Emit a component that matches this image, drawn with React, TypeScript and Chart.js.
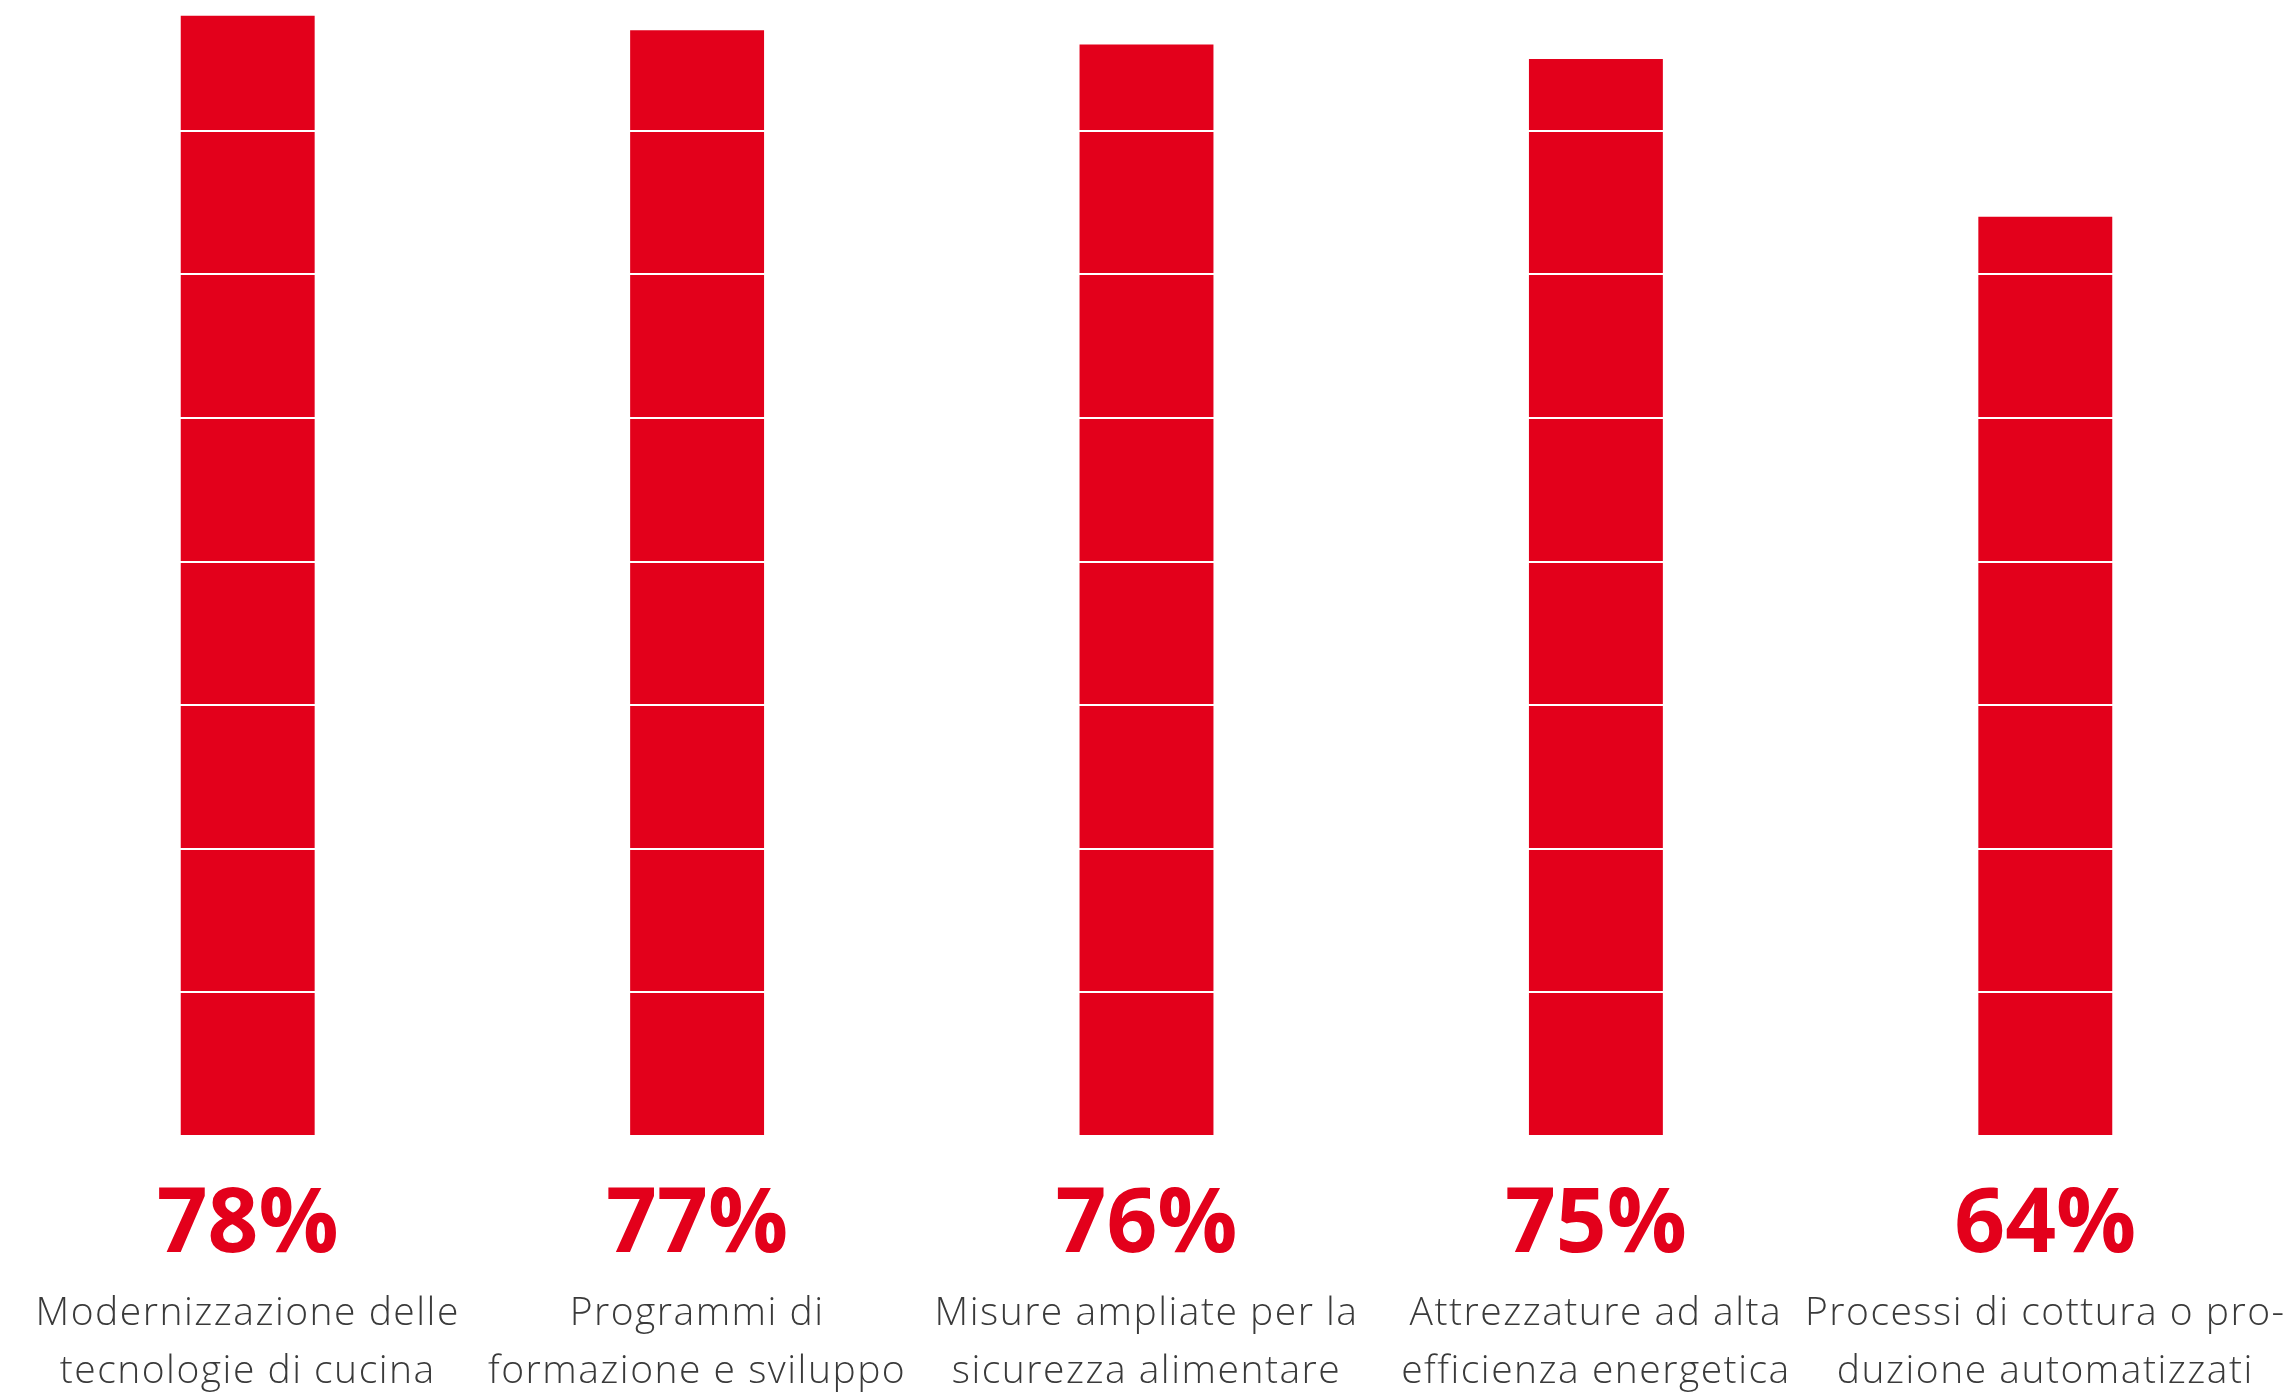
import React, { useEffect, useRef } from "react";
import { Chart, registerables } from "chart.js";

Chart.register(...registerables);

const categories: string[][] = [
  ["Modernizzazione delle", "tecnologie di cucina"],
  ["Programmi di", "formazione e sviluppo"],
  ["Misure ampliate per la", "sicurezza alimentare"],
  ["Attrezzature ad alta", "efficienza energetica"],
  ["Processi di cottura o pro-", "duzione automatizzati"],
];
const values: number[] = [78, 77, 76, 75, 64];
const valueLabels: string[] = ["78%", "77%", "76%", "75%", "64%"];

const RED = "#e3001b";

const labelPlugin = {
  id: "bottomLabels",
  afterDraw(chart: any) {
    const { ctx, chartArea } = chart;
    const x = chart.scales.x;
    ctx.save();
    ctx.textAlign = "center";
    ctx.textBaseline = "alphabetic";
    values.forEach((_, i) => {
      const px = x.getPixelForValue(i);
      ctx.fillStyle = RED;
      ctx.font = "bold 89px 'Open Sans'";
      (ctx as any).letterSpacing = "0px";
      ctx.fillText(valueLabels[i], px, chartArea.bottom + 116);
      ctx.fillStyle = "#3a3a3a";
      ctx.font = "300 39px 'Open Sans'";
      (ctx as any).letterSpacing = "1.5px";
      categories[i].forEach((line, j) => {
        ctx.fillText(line, px, chartArea.bottom + 189 + j * 58);
      });
    });
    ctx.restore();
  },
};

export default function App() {
  const ref = useRef<HTMLCanvasElement | null>(null);
  useEffect(() => {
    document.body.style.margin = "0";
    if (!ref.current) return;
    const chart = new Chart(ref.current, {
      type: "bar",
      data: {
        labels: categories.map((c) => c.join(" ")),
        datasets: [
          {
            data: values,
            backgroundColor: RED,
            borderWidth: 0,
            barPercentage: 0.298,
            categoryPercentage: 1,
          },
        ],
      },
      options: {
        animation: false,
        responsive: true,
        maintainAspectRatio: false,
        layout: { padding: { left: 23, right: 25, top: 0, bottom: 248 } },
        plugins: { legend: { display: false }, tooltip: { enabled: false } },
        scales: {
          x: {
            ticks: { display: false },
            grid: { display: false },
            border: { display: false },
          },
          y: {
            min: 0,
            max: 79.1,
            ticks: { display: false, stepSize: 10 },
            border: { display: false },
            grid: {
              z: 1,
              lineWidth: 2,
              drawTicks: false,
              tickLength: 0,
              color: (c: any) =>
                c.tick && c.tick.value > 0 && c.tick.value % 10 === 0 ? "#ffffff" : "rgba(0,0,0,0)",
            },
          },
        },
      },
      plugins: [labelPlugin],
    });
    return () => chart.destroy();
  }, []);
  return (
    <div style={{ position: "absolute", left: 0, top: 0, width: 2295, height: 1392 }}>
      <canvas ref={ref} />
    </div>
  );
}
